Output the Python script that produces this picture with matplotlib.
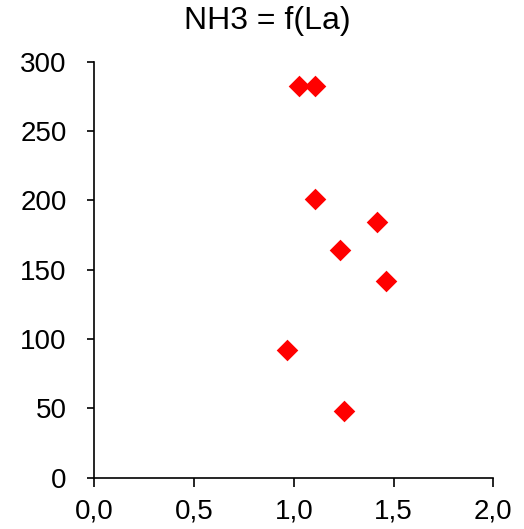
import matplotlib
matplotlib.use("Agg")
import matplotlib.pyplot as plt

la = [1.028, 1.106, 1.106, 1.416, 1.230, 1.462, 0.967, 1.253]
nh3 = [282.5, 282.5, 201.2, 184.2, 164.2, 141.8, 91.9, 48.1]
xticks = [0.0, 0.5, 1.0, 1.5, 2.0]
xticklabels = ["0,0", "0,5", "1,0", "1,5", "2,0"]
yticks = [0, 50, 100, 150, 200, 250, 300]

plt.rcParams['font.family'] = ['Liberation Sans', 'DejaVu Sans']
fig = plt.figure(figsize=(5.24, 5.29), dpi=100)
ax = fig.add_axes([0.18, 0.097, 0.7614, 0.7864])
ax.scatter(la, nh3, marker='D', s=11**2, color='#ff0000', linewidths=0, zorder=3)
ax.set_xlim(0, 2.0)
ax.set_ylim(0, 300)
ax.set_xticks(xticks)
ax.set_xticklabels(xticklabels)
ax.set_yticks(yticks)
for s in ['top', 'right']:
    ax.spines[s].set_visible(False)
for s in ['left', 'bottom']:
    ax.spines[s].set_color('#000000')
    ax.spines[s].set_linewidth(1.2)
ax.tick_params(axis='both', direction='out', width=1.2, color='#000000',
               labelsize=20, labelcolor='#000000')
ax.tick_params(axis='x', length=6.5, pad=8.5)
ax.tick_params(axis='y', length=5, pad=15)
fig.text(267 / 524, 1 - 29 / 529, "NH3 = f(La)", fontsize=23, color='#000000',
         ha='center', va='baseline')
fig.savefig("out.png", dpi=100)
